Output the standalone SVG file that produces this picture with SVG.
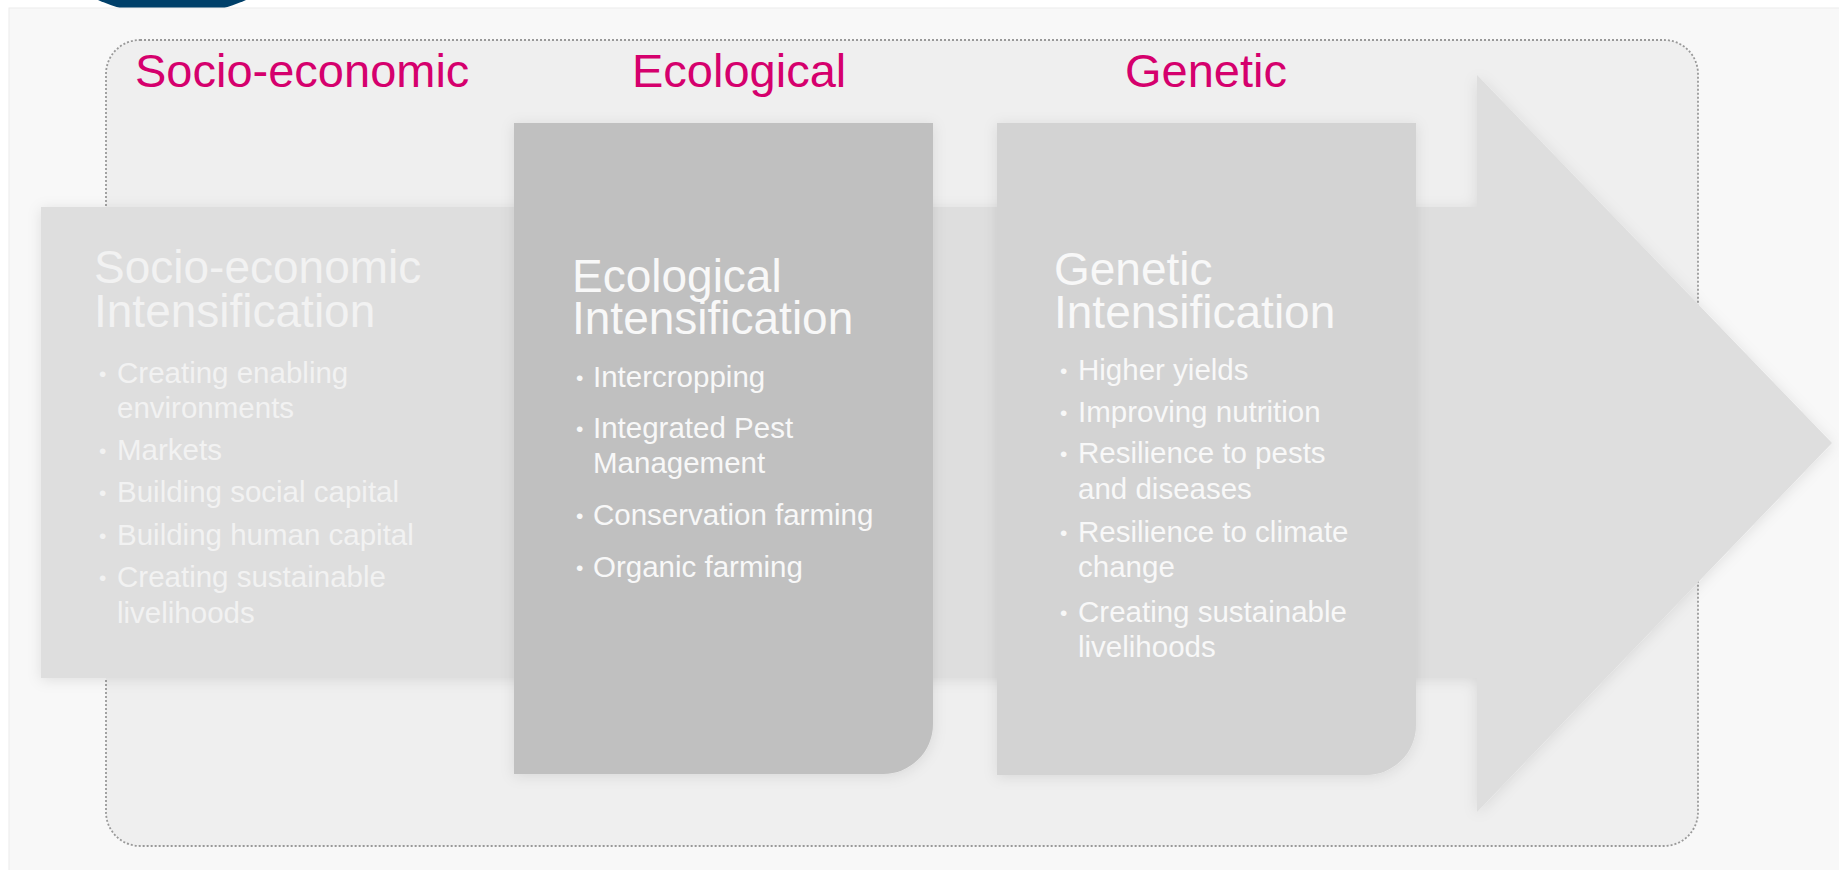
<svg xmlns="http://www.w3.org/2000/svg" width="1839" height="870" viewBox="0 0 1839 870">
  <defs>
    <filter id="halo" x="-10%" y="-10%" width="120%" height="120%">
      <feDropShadow dx="0" dy="2" stdDeviation="7" flood-color="#000" flood-opacity="0.10"/>
    </filter>
    <style>
      .pink { font-family: "Liberation Sans", Arial, sans-serif; font-size: 47px; fill: #d5006d; }
      .title { font-family: "Liberation Sans", Arial, sans-serif; font-size: 46px; fill: #f8f8f8; }
      .item { font-family: "Liberation Sans", Arial, sans-serif; font-size: 29.5px; fill: #f8f8f8; }
      .dot { font-family: "Liberation Sans", Arial, sans-serif; font-size: 21px; fill: #f8f8f8; }
      .faint { fill: #f2f2f2; }
    </style>
  </defs>

  <!-- page -->
  <rect x="0" y="0" width="1839" height="870" fill="#ffffff"/>
  <circle cx="172" cy="-163" r="179" fill="#00406a"/>
  <rect x="9" y="8" width="1840" height="870" fill="#f8f8f8" stroke="#ebebeb" stroke-width="1"/>

  <!-- container -->
  <rect id="frame" x="106" y="40" width="1592" height="806" rx="34" ry="34" fill="#efefef" stroke="#999999" stroke-width="1.8" stroke-dasharray="2 2"/>

  <!-- column headings -->
  <g id="headings">
    <text class="pink" x="135" y="87">Socio-economic</text>
    <text class="pink" x="632" y="87">Ecological</text>
    <text class="pink" x="1125" y="87">Genetic</text>
  </g>

  <!-- flow arrow (connector) -->
  <g id="connectors">
    <path id="flow-arrow" d="M41,207 H1477 V75 L1832,443 L1477,812 V678 H41 Z" fill="#dedede" filter="url(#halo)"/>
  </g>

  <!-- socio-economic node (on the arrow body) -->
  <g id="node-socio">
    <text class="title faint" x="94" y="283">Socio-economic<tspan x="94" dy="44">Intensification</tspan></text>
    <text class="dot faint" x="99" y="381">•</text>
    <text class="item faint" x="117" y="383">Creating enabling<tspan x="117" dy="35">environments</tspan></text>
    <text class="dot faint" x="99" y="458">•</text>
    <text class="item faint" x="117" y="460">Markets</text>
    <text class="dot faint" x="99" y="500">•</text>
    <text class="item faint" x="117" y="502">Building social capital</text>
    <text class="dot faint" x="99" y="543">•</text>
    <text class="item faint" x="117" y="545">Building human capital</text>
    <text class="dot faint" x="99" y="585">•</text>
    <text class="item faint" x="117" y="587">Creating sustainable<tspan x="117" dy="36">livelihoods</tspan></text>
  </g>

  <!-- ecological node -->
  <g id="node-ecological">
    <path d="M514,123 H933 V724 A50,50 0 0 1 883,774 H514 Z" fill="#c0c0c0" filter="url(#halo)"/>
    <text class="title" x="572" y="292">Ecological<tspan x="572" dy="42">Intensification</tspan></text>
    <text class="dot" x="576" y="385">•</text>
    <text class="item" x="593" y="387">Intercropping</text>
    <text class="dot" x="576" y="436">•</text>
    <text class="item" x="593" y="438">Integrated Pest<tspan x="593" dy="35">Management</tspan></text>
    <text class="dot" x="576" y="523">•</text>
    <text class="item" x="593" y="525">Conservation farming</text>
    <text class="dot" x="576" y="575">•</text>
    <text class="item" x="593" y="577">Organic farming</text>
  </g>

  <!-- genetic node -->
  <g id="node-genetic">
    <path d="M997,123 H1416 V725 A50,50 0 0 1 1366,775 H997 Z" fill="#d3d3d3" filter="url(#halo)"/>
    <text class="title" x="1054" y="285">Genetic<tspan x="1054" dy="43">Intensification</tspan></text>
    <text class="dot" x="1060" y="378">•</text>
    <text class="item" x="1078" y="380">Higher yields</text>
    <text class="dot" x="1060" y="420">•</text>
    <text class="item" x="1078" y="422">Improving nutrition</text>
    <text class="dot" x="1060" y="461">•</text>
    <text class="item" x="1078" y="463">Resilience to pests<tspan x="1078" dy="36">and diseases</tspan></text>
    <text class="dot" x="1060" y="540">•</text>
    <text class="item" x="1078" y="542">Resilience to climate<tspan x="1078" dy="35">change</tspan></text>
    <text class="dot" x="1060" y="620">•</text>
    <text class="item" x="1078" y="622">Creating sustainable<tspan x="1078" dy="35">livelihoods</tspan></text>
  </g>
</svg>
